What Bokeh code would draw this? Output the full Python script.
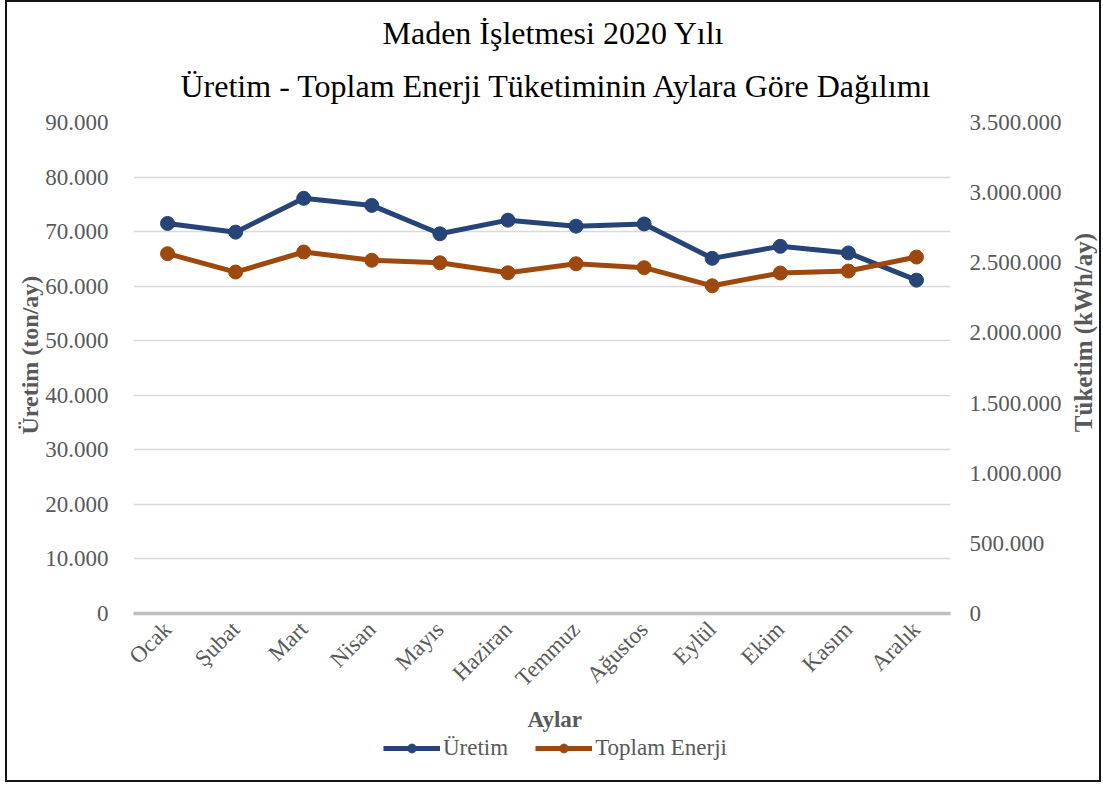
from math import pi

from bokeh.embed import file_html
from bokeh.layouts import column, row
from bokeh.models import (FactorRange, FixedTicker, Label, Legend, LegendItem,
                          LinearAxis, Range1d, Title)
from bokeh.plotting import figure
from bokeh.resources import INLINE

# --- data -------------------------------------------------------------------
months = ["Ocak", "Şubat", "Mart", "Nisan", "Mayıs", "Haziran",
          "Temmuz", "Ağustos", "Eylül", "Ekim", "Kasım", "Aralık"]

uretim = [71500, 69900, 76100, 74800, 69600, 72100,
          71000, 71400, 65100, 67300, 66100, 61100]            # ton/ay

toplam_enerji = [2565000, 2434000, 2577000, 2518000, 2500000, 2429000,
                 2493000, 2465000, 2336000, 2427000, 2441000, 2541000]  # kWh/ay

left_ticks = [0, 10000, 20000, 30000, 40000, 50000, 60000, 70000, 80000, 90000]
left_tick_labels = ["0", "10.000", "20.000", "30.000", "40.000", "50.000",
                    "60.000", "70.000", "80.000", "90.000"]

right_ticks = [0, 500000, 1000000, 1500000, 2000000, 2500000, 3000000, 3500000]
right_tick_labels = ["0", "500.000", "1.000.000", "1.500.000", "2.000.000",
                     "2.500.000", "3.000.000", "3.500.000"]

title_lines = ["Maden İşletmesi 2020 Yılı",
               "Üretim - Toplam Enerji Tüketiminin Aylara Göre Dağılımı"]

# --- style ------------------------------------------------------------------
FONT = "Liberation Serif"
GRAY = "#595959"
BLUE = "#264478"
ORANGE = "#9E480E"
EDGE = "2px solid #151515"

# ---------------------------------------------------------------------------
# main chart
# ---------------------------------------------------------------------------
p = figure(
    x_range=FactorRange(factors=months, range_padding=0),
    y_range=Range1d(0, 90000),
    width=1057, height=735,
    min_border_left=126, min_border_right=114,
    min_border_top=120, min_border_bottom=124,
    title=None,
    output_backend="svg",
    toolbar_location=None,
    outline_line_color=None,
    background_fill_color="white",
    border_fill_color="white",
    styles={"border-top": EDGE, "border-left": EDGE},
)
p.extra_y_ranges = {"enerji": Range1d(0, 3500000)}

# grid
p.xgrid.grid_line_color = None
p.ygrid.grid_line_color = "#D9D9D9"
p.ygrid.grid_line_width = 1.5

# left axis
ly = p.yaxis[0]
ly.ticker = FixedTicker(ticks=left_ticks)
ly.major_label_overrides = dict(zip(left_ticks, left_tick_labels))
ly.axis_line_color = None
ly.major_tick_line_color = None
ly.minor_tick_line_color = None
ly.major_label_standoff = 19
ly.major_label_text_font = FONT
ly.major_label_text_font_size = "23px"
ly.major_label_text_color = GRAY

# right axis
ry = LinearAxis(y_range_name="enerji",
                ticker=FixedTicker(ticks=right_ticks),
                major_label_overrides=dict(zip(right_ticks, right_tick_labels)),
                axis_line_color=None,
                major_tick_line_color=None,
                minor_tick_line_color=None,
                major_label_standoff=13,
                major_label_text_font=FONT,
                major_label_text_font_size="23px",
                major_label_text_color=GRAY)
p.add_layout(ry, "right")

# category axis
xa = p.xaxis[0]
xa.axis_line_color = "#BFBFBF"
xa.axis_line_width = 3.5
xa.major_tick_line_color = None
xa.minor_tick_line_color = None
xa.major_label_orientation = pi / 4
xa.major_label_standoff = 6
xa.major_label_text_font = FONT
xa.major_label_text_font_size = "23px"
xa.major_label_text_color = GRAY

# series
p.line(months, uretim, line_color=BLUE, line_width=5)
p.scatter(months, uretim, size=14, fill_color=BLUE, line_color=BLUE)
p.line(months, toplam_enerji, y_range_name="enerji",
       line_color=ORANGE, line_width=5)
p.scatter(months, toplam_enerji, y_range_name="enerji", size=14,
          fill_color=ORANGE, line_color=ORANGE)


def side_title(text, side, offset, size="23px", bold=True, color=GRAY,
               standoff=0, valign="bottom"):
    p.add_layout(Title(text=text, align="left", offset=offset,
                       vertical_align=valign,
                       text_font=FONT, text_font_size=size,
                       text_font_style="bold" if bold else "normal",
                       text_color=color, standoff=standoff), side)


# chart titles (inner line first, so it sits next to the plot area)
side_title(title_lines[1], "above", 47, size="32px", bold=False,
           color="black", standoff=34, valign="top")
side_title(title_lines[0], "above", 249, size="32px", bold=False,
           color="black", standoff=0)

# value-axis and category-axis titles
side_title("Üretim (ton/ay)", "left", 179, size="24px", standoff=0)
side_title("Aylar", "below", 394, standoff=5)

# ---------------------------------------------------------------------------
# strip on the right carrying the secondary axis title
# (same top/bottom borders, so its frame lines up with the chart's frame)
# ---------------------------------------------------------------------------
strip = figure(width=39, height=735,
               min_border_left=0, min_border_right=0,
               min_border_top=120, min_border_bottom=124, title=None,
               x_axis_location=None, y_axis_location=None,
               output_backend="svg", toolbar_location=None,
               outline_line_color=None, background_fill_color="white",
               border_fill_color="white",
               styles={"border-top": EDGE, "border-right": EDGE})
strip.grid.visible = False
strip.add_layout(Label(x=21, y=281, x_units="screen", y_units="screen",
                       text="Tüketim (kWh/ay)", angle=pi / 2,
                       text_align="center", text_baseline="middle",
                       text_font=FONT, text_font_size="25px",
                       text_font_style="bold", text_color=GRAY))

# ---------------------------------------------------------------------------
# legend strip below the chart (its series sit outside its visible range)
# ---------------------------------------------------------------------------
key = figure(x_range=FactorRange(factors=months), y_range=Range1d(0, 1),
             width=1096, height=47, min_border=0, title=None,
             x_axis_location=None, y_axis_location=None,
             output_backend="svg", toolbar_location=None,
             outline_line_color=None, background_fill_color="white",
             border_fill_color="white",
             styles={"border-left": EDGE, "border-right": EDGE,
                     "border-bottom": EDGE})
key.grid.visible = False
k1 = key.line(months, uretim, line_color=BLUE, line_width=5)
k1s = key.scatter(months, uretim, size=14, fill_color=BLUE, line_color=BLUE)
k2 = key.line(months, toplam_enerji, line_color=ORANGE, line_width=5)
k2s = key.scatter(months, toplam_enerji, size=14,
                  fill_color=ORANGE, line_color=ORANGE)

legend = Legend(items=[LegendItem(label="Üretim", renderers=[k1, k1s]),
                       LegendItem(label="Toplam Enerji", renderers=[k2, k2s])],
                orientation="horizontal", location="top_center",
                label_text_font=FONT, label_text_font_size="23px",
                label_text_color=GRAY, glyph_width=57, glyph_height=22,
                label_height=22,
                label_standoff=3, spacing=27, padding=0, margin=0,
                border_line_color=None, background_fill_alpha=0)
key.add_layout(legend, "center")

layout = column(row(p, strip, spacing=0), key, spacing=0,
                styles={"margin-left": "5px"})

open("out.html", "w").write(file_html(layout, INLINE))
